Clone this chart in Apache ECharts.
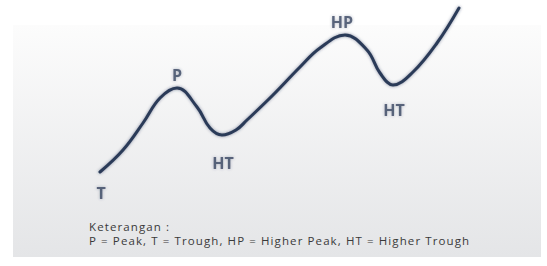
<!DOCTYPE html>
<html>
<head>
<meta charset="utf-8">
<script src="https://cdn.jsdelivr.net/npm/echarts@6/dist/echarts.min.js"></script>
<style>
  html, body { margin: 0; padding: 0; background: #ffffff; }
  #chart { width: 547px; height: 266px; }
  /* the note text in the original is spaced out, the point labels are not */
  #chart svg text { letter-spacing: 1.1px; }
  #chart svg text[style*="bold"] { letter-spacing: 0; }
</style>
</head>
<body>
<div id="chart"></div>
<script>
var curveX = [100, 123, 143, 160, 177, 197, 210, 222, 236, 247, 273, 300, 320, 345, 367, 380, 393, 413, 437, 459];
var curveY = [172, 150, 123, 98, 88, 107, 128, 135, 130, 120, 95, 67, 48, 35, 50, 73, 85, 72, 43, 8];

// Turning point labels
var pointNames = ['T', 'P', 'HT', 'HP', 'HT'];
var pointX = [101, 177, 223, 342, 394];
var pointY = [193, 75, 163, 22, 110];

// Legend text
var noteLines = ['Keterangan :', 'P = Peak, T = Trough, HP = Higher Peak, HT = Higher Trough'];

var chart = echarts.init(document.getElementById('chart'), null, { renderer: 'svg' });

var curveData = curveX.map(function (x, i) { return [x, curveY[i]]; });
var labelData = pointNames.map(function (n, i) { return { name: n, value: [pointX[i], pointY[i]] }; });

chart.setOption({
    animation: false,
    grid: { left: 0, right: 0, top: 0, bottom: 0 },
    xAxis: { type: 'value', min: 0, max: 547, show: false },
    yAxis: { type: 'value', min: 0, max: 266, inverse: true, show: false },
    graphic: [
        {
            type: 'rect',
            z: -10,
            shape: { x: 13, y: 25, width: 528, height: 232 },
            style: {
                fill: new echarts.graphic.LinearGradient(0, 0, 0, 1, [
                    { offset: 0, color: '#fcfcfc' },
                    { offset: 1, color: '#e4e5e7' }
                ])
            }
        },
        {
            type: 'text',
            left: 89,
            top: 219,
            style: {
                text: noteLines.join('\n'),
                font: '11.5px "Open Sans"',
                lineHeight: 14,
                fill: '#3a3a3a'
            }
        }
    ],
    series: [
        {
            type: 'line',
            data: curveData,
            smooth: 0.4,
            symbol: 'none',
            lineStyle: {
                color: '#2c3a58',
                width: 3,
                cap: 'round',
                shadowBlur: 3,
                shadowColor: 'rgba(40,55,90,0.55)'
            }
        },
        {
            type: 'scatter',
            data: labelData,
            symbolSize: 0,
            label: {
                show: true,
                position: 'inside',
                formatter: '{b}',
                fontFamily: 'Open Sans',
                fontWeight: 'bold',
                fontSize: 16,
                color: '#3a4763',
                textShadowBlur: 3,
                textShadowColor: 'rgba(50,65,100,0.45)'
            }
        }
    ]
});
</script>
</body>
</html>
